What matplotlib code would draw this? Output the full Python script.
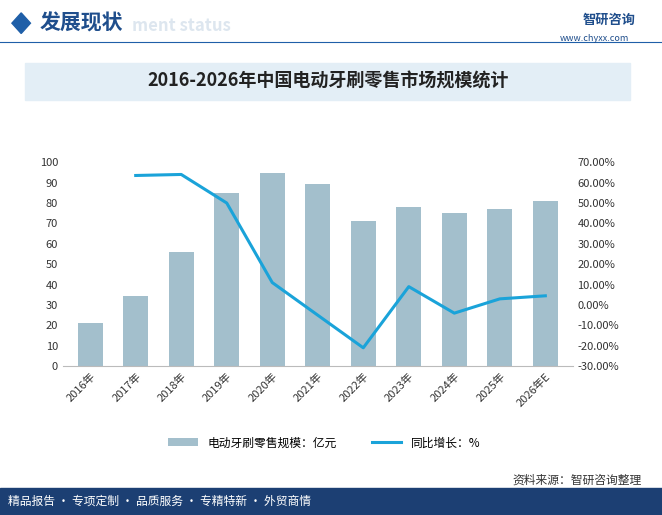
import matplotlib
matplotlib.use("Agg")
import matplotlib.pyplot as plt
from matplotlib.patches import Rectangle, Polygon
import numpy as np

plt.rcParams['font.family'] = ['Noto Sans CJK SC', 'DejaVu Sans']

years = ["2016年", "2017年", "2018年", "2019年", "2020年", "2021年", "2022年",
         "2023年", "2024年", "2025年", "2026年E"]
market = [21, 34.5, 56, 85, 94.5, 89.5, 71, 78, 75, 77, 81]
growth_years = years[1:]
growth = [63.5, 64.0, 50.0, 11.0, -5.0, -21.0, 9.0, -4.0, 3.0, 4.5]

fig = plt.figure(figsize=(6.62, 5.15), dpi=100)

# header
fig.patches.append(Polygon([[0.018, 0.955], [0.032, 0.975], [0.046, 0.955], [0.032, 0.935]],
                           closed=True, transform=fig.transFigure, color="#1f5fa8"))
fig.text(0.06, 0.955, "发展现状", fontsize=15, fontweight="bold", color="#1f4e8c", va="center")
fig.text(0.2, 0.95, "ment status", fontsize=12, fontweight="bold", color="#dde6ef", va="center")
fig.lines.append(plt.Line2D([0.0, 1.0], [0.918, 0.918], transform=fig.transFigure, color="#1f5fa8", lw=0.8))
fig.text(0.88, 0.962, "智研咨询", fontsize=9.5, fontweight="bold", color="#1f4e8c", va="center")
fig.text(0.845, 0.925, "www.chyxx.com", fontsize=6.5, color="#1f4e8c", va="center")

# title box
fig.patches.append(Rectangle((0.038, 0.805), 0.914, 0.073, transform=fig.transFigure,
                             color="#e3eef6", zorder=0))
fig.text(0.495, 0.842, "2016-2026年中国电动牙刷零售市场规模统计", fontsize=13,
         fontweight="bold", color="#222222", ha="center", va="center")

ax = fig.add_axes([0.095, 0.289, 0.77, 0.396])
x = np.arange(len(years))
ax.bar(x, market, width=0.55, color="#a3bfcc", label="电动牙刷零售规模：亿元")
ax.set_ylim(0, 100)
ax.set_yticks(range(0, 101, 10))
ax.set_xlim(-0.6, len(years) - 0.4)
ax.set_xticks(x)
ax.set_xticklabels(years, rotation=45, ha="right", rotation_mode="anchor")
ax.tick_params(axis="both", labelsize=8, colors="#333333", length=0)
for s in ["top", "right", "left"]:
    ax.spines[s].set_visible(False)
ax.spines["bottom"].set_color("#bbbbbb")

ax2 = ax.twinx()
ax2.plot(x[1:], growth, color="#1aa3d9", lw=2.2, label="同比增长：%")
ax2.set_ylim(-30, 70)
ax2.set_yticks(range(-30, 71, 10))
ax2.set_yticklabels([f"{v:.2f}%" for v in range(-30, 71, 10)])
ax2.tick_params(axis="y", labelsize=8, colors="#333333", length=0)
for s in ["top", "right", "left", "bottom"]:
    ax2.spines[s].set_visible(False)

h1, l1 = ax.get_legend_handles_labels()
h2, l2 = ax2.get_legend_handles_labels()
fig.legend(h1 + h2, l1 + l2, loc="center", bbox_to_anchor=(0.49, 0.14), ncol=2,
           frameon=False, fontsize=8.5, handlelength=2.5, columnspacing=3)

fig.text(0.97, 0.068, "资料来源：智研咨询整理", fontsize=8.5, color="#333333", ha="right", va="center")

# footer
fig.patches.append(Rectangle((0, 0), 1, 0.052, transform=fig.transFigure, color="#1c3f73", zorder=0))
fig.text(0.012, 0.026, "精品报告 · 专项定制 · 品质服务 · 专精特新 · 外贸商情", fontsize=8.5,
         color="white", va="center")

fig.savefig("out.png", dpi=100)
